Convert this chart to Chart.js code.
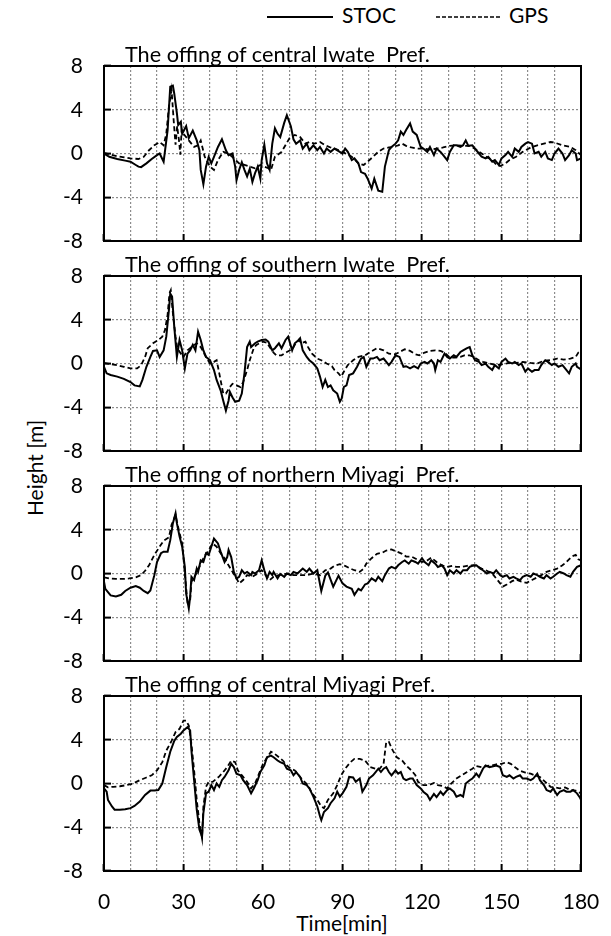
<!DOCTYPE html>
<html>
<head>
<meta charset="utf-8">
<script src="https://cdn.jsdelivr.net/npm/chart.js@4.4.0/dist/chart.umd.min.js"></script>
<style>
  body { margin: 0; background: #fff; font-family: Lato, sans-serif; color: #000; }
  #page { position: relative; width: 611px; height: 936px; overflow: hidden; }
  canvas { position: absolute; left: 0; }
  .txt { position: absolute; font-size: 21px; line-height: 24px; white-space: pre; }
  .ptitle { font-size: 21.7px; }
  .legend { position: absolute; top: 4px; height: 24px; }
</style>
</head>
<body>
<div id="page">
  <svg class="legend" style="left:267px" width="66" height="24"><line x1="0" y1="13" x2="66" y2="13" stroke="#000" stroke-width="2"/></svg>
  <div class="txt" style="left:342px; top:3px">STOC</div>
  <svg class="legend" style="left:436px" width="66" height="24"><line x1="0" y1="13" x2="66" y2="13" stroke="#000" stroke-width="1.6" stroke-dasharray="4 2"/></svg>
  <div class="txt" style="left:509px; top:3px">GPS</div>
  <div class="txt" style="left:-15px; top:456px; width:100px; text-align:center; transform:rotate(-90deg)">Height [m]</div>
  <div class="txt" style="left:292px; top:911px; width:100px; text-align:center">Time[min]</div>
</div>
<script>
// panel titles
var titles = [
  'The offing of central Iwate  Pref.',
  'The offing of southern Iwate  Pref.',
  'The offing of northern Miyagi  Pref.',
  'The offing of central Miyagi Pref.'
];
var xLabels = [0, 30, 60, 90, 120, 150, 180];

// [time (min), height (m)]
var stocCentralIwate = [[0,0],[2,-0.3],[5,-0.5],[8,-0.65],[10,-0.75],[12,-1.05],[13,-1.2],[14,-1.25],[16,-0.9],[18,-0.5],[20,-0.15],[21,0],[22.5,-0.75],[24,2.1],[25,6.1],[26,6.2],[26.5,5.5],[27.5,3.7],[28,2.6],[29,2.9],[29.5,1.8],[31,2.5],[32,1.4],[33.5,2.1],[35,1.2],[36,0.3],[36.5,-1.5],[37.5,-2.8],[38.5,-1.2],[39.5,-0.3],[40.5,-0.9],[41.5,-0.3],[43,0.6],[44.5,1.3],[46,0.3],[47,-0.15],[48.5,0],[49.5,-1.2],[50,-2.45],[51,-1.5],[52,-0.8],[53,-1.5],[54,-2.1],[55,-1.4],[56,-2.6],[57,-1.8],[58,-1.2],[59,-2.3],[59.5,-0.6],[60.5,0.8],[61.5,-0.9],[62.5,-1.5],[63.5,0.9],[64.5,2.3],[65.5,1.8],[66.5,1.5],[68,2.8],[69,3.5],[70.5,2.5],[71.5,1.3],[72.5,0.9],[74,1.2],[75,0.45],[76.5,0.9],[77.5,0.3],[79,0.75],[80.5,0.3],[81.5,0.6],[83,0],[84,0.45],[85.5,0.15],[87,0.45],[90,0],[91,0.45],[92,0.15],[93.5,-0.6],[94.5,-0.45],[96,-0.9],[97,-1.7],[98.5,-1.85],[99.5,-2.3],[101,-3.2],[102,-2.3],[103.5,-3.4],[105,-3.5],[106,-1.2],[107.5,0.3],[108.5,0.6],[110,0.9],[111,1.2],[112,2.0],[113,1.7],[114,2.15],[115.5,2.75],[116.5,2.0],[118,1.7],[119.5,0.6],[120.5,0.45],[122,0.15],[123,0.6],[124.5,-0.15],[125.5,0.45],[127,0.15],[128,-0.15],[129.5,-0.6],[130.5,0.15],[132,0.75],[133,0.75],[134.5,0.6],[135.5,0.75],[136.5,1.2],[137.5,0.7],[139,0.75],[140,0.45],[141.5,0],[142.5,-0.3],[144,-0.45],[145,-0.3],[146.5,-0.75],[147.5,-0.6],[149,-1.05],[150,-0.45],[151.5,-0.15],[152.5,0.15],[154,-0.3],[155,0.45],[156.5,0.15],[157.5,0.6],[159,0.9],[160,1.05],[161.5,0.9],[162.5,0],[164,0.15],[165,-0.3],[166.5,0.15],[167.5,-0.45],[169,-0.6],[170,0],[171.5,0.45],[173,0],[174,-0.6],[175.5,-0.15],[176.5,0.3],[178,0],[178.5,-0.6],[180,-0.45]];
var gpsCentralIwate = [[0,0.05],[5,-0.25],[10,-0.45],[13,-0.5],[15,-0.3],[17,0.3],[19,0.75],[21,1.05],[22.5,0.75],[23.5,1.8],[24.5,4.3],[25.5,5.8],[26.3,3.0],[27,0.8],[27.6,2.5],[28.3,1.2],[28.8,-0.1],[29.3,2.2],[30,1.8],[32,1.2],[34,0.6],[35.5,0.75],[36.5,1.2],[38,-0.3],[40,-1.2],[41.5,-1.5],[43,-0.6],[45,0.15],[47,0],[49,-0.45],[51,-0.9],[53,-1.05],[55,-1.2],[57,-1.35],[59,-1.05],[60.5,-1.2],[62,-1.35],[63,-1.5],[64.5,-0.3],[67,0.15],[70,1.4],[72,1.7],[74,1.5],[76,0.9],[77.5,1.05],[79.5,0.9],[81.5,1.05],[83.5,0.75],[85.5,0.55],[88,0.35],[90,0.15],[93.5,-0.3],[96,-0.9],[98,-1.05],[99.5,-0.75],[101.5,-0.3],[103.5,0.15],[105.5,0.45],[107.5,0.55],[109,0.6],[111,0.75],[112.5,0.9],[114,0.7],[116,0.55],[118,0.45],[120.5,0.45],[123,0.35],[125.5,0.45],[128,0.55],[130.5,0.7],[133,0.75],[135.5,0.7],[138,0.7],[140.5,0.35],[142.5,0],[144.5,-0.35],[146.5,-0.6],[148,-1.0],[149.5,-1.15],[151.5,-0.9],[153,-0.6],[155.5,-0.3],[158,0.15],[161,0.55],[163.5,0.75],[166,0.9],[168.5,1.05],[170,1.0],[173,0.75],[176,0.6],[178,0.3],[180,-0.15]];

var stocSouthernIwate = [[0,-0.3],[1,-0.9],[2.5,-1.05],[5,-1.2],[7.5,-1.4],[10,-1.7],[11.5,-2.0],[13.5,-2.1],[14.5,-1.5],[16,-0.3],[17.5,0.6],[18.5,1.15],[20,1.2],[21,0.6],[22.5,1.2],[23.5,2.45],[24.5,4.9],[25,6.4],[25.7,6.1],[26.5,3.4],[27.5,0.6],[28.5,2.15],[29.5,1.2],[30.5,-0.45],[31.5,0.9],[32.5,1.2],[33.5,1.7],[34.5,1.2],[35.5,2.9],[36.5,2.15],[37.5,1.2],[38.5,0.6],[40,0.3],[41.5,-0.6],[42.5,-1.5],[44,-2.45],[45,-3.4],[46,-4.3],[47,-3.4],[47.5,-2.6],[48.5,-3.1],[49.5,-3.5],[51,-3.4],[52,-2.75],[53,-0.9],[54,1.5],[55,2.0],[55.5,1.5],[57,1.85],[58,2.0],[59.5,2.15],[61,2.2],[62,2.0],[63.5,1.2],[64.5,1.4],[66,1.85],[67,1.4],[68.5,2.15],[69.5,2.45],[71,1.2],[72,1.85],[73.5,2.15],[74,2.3],[75,1.2],[76.5,0.6],[77.5,0.3],[79,0],[80.5,-0.45],[81.5,-1.2],[82.5,-2.15],[83.5,-1.5],[84.5,-2.15],[85.5,-2.0],[86.5,-2.45],[88,-2.75],[89,-3.5],[89.7,-3.2],[90.5,-2.15],[91.5,-2.0],[92.5,-1.05],[94,-0.9],[95.5,-0.3],[97,0.45],[98,0.6],[99,-0.3],[100.5,0.45],[101.5,0.45],[103,0.6],[104,0.3],[105.5,0.45],[107.5,-0.15],[108.5,0.15],[110,0.75],[111.5,0.6],[113,-0.3],[114,-0.25],[115.5,-0.45],[117,-0.25],[118.5,-0.45],[119.5,0],[121,0.15],[122,0],[123.5,0.3],[124.5,0],[125,-0.6],[126,0.3],[127,0.15],[128.5,0.9],[129.5,0.6],[130.5,0.45],[132,0.75],[133,0.6],[134.5,1.05],[135.5,1.2],[137,1.4],[138,1.5],[139,0.75],[140,0.3],[141.5,0.15],[142.5,-0.15],[144,0],[145,-0.3],[146.5,-0.6],[147.5,-0.15],[149,-0.45],[150,0.15],[151.5,0.45],[152.5,0.15],[154,0],[155,0.15],[156.5,-0.15],[157.5,0],[159,-0.75],[160,-0.45],[161.5,-0.75],[162.5,-0.6],[164,-0.6],[165,-0.15],[166.5,0.3],[167.5,0.15],[169,-0.15],[170,0],[171.5,-0.3],[173,-0.15],[174,-0.45],[175.5,-0.9],[176.5,-0.3],[178,0],[178.5,-0.3],[180,-0.55]];
var gpsSouthernIwate = [[0,0.05],[2.5,-0.05],[5,-0.15],[7.5,-0.3],[10,-0.45],[12.5,-0.45],[14,-0.15],[15.5,0.6],[16.5,1.4],[18.5,1.85],[20.5,2.15],[22,2.45],[23,3.05],[24,4.45],[24.7,6.4],[25.2,6.7],[26,4.6],[27,2.45],[27.7,1.4],[29,0.9],[30,0.6],[31.5,1.2],[32.5,1.4],[34,1.7],[35,1.85],[36.5,1.5],[37.5,1.05],[38.5,0.6],[40,0],[41.5,0.15],[42.5,0.3],[43.5,-0.9],[45,-2.75],[46,-2.75],[47.5,-2.15],[48.5,-1.85],[50,-2.0],[51.5,-2.15],[52.5,-1.7],[54,-0.6],[55,0.3],[56.5,1.4],[57.5,1.7],[59,1.9],[60,2.0],[61.5,1.9],[62.5,1.5],[64,1.0],[65,0.75],[67,0.75],[69,1.05],[71,1.3],[72,1.7],[73.5,2.15],[74.5,1.85],[76,2.0],[77,1.5],[78.5,0.9],[80.5,0.45],[82,0.3],[84,0],[86,-0.25],[87,-0.6],[88.5,-0.9],[89.5,-1.2],[90.5,-0.75],[92,-0.15],[94,0.3],[96,0.6],[98.5,0.75],[100.5,1.05],[103,1.4],[105.5,1.2],[107.5,0.9],[110,0.85],[111.5,1.05],[113.5,1.3],[115.5,1.15],[117.5,0.85],[119,0.75],[121,1.0],[123,1.15],[125,1.2],[127,1.15],[128.5,1.0],[130.5,0.55],[132.5,0.55],[134.5,0.6],[136,0.75],[138,0.75],[139.5,0.6],[141.5,0.3],[143,0.15],[145.5,0],[148,-0.15],[150.5,-0.05],[153,0.05],[155.5,0.05],[158,0.15],[161,0.05],[163.5,0],[166,0.25],[168.5,0.3],[171,0.45],[173.5,0.35],[176,0.45],[178,0.6],[179,1.0],[180,1.15]];

var stocNorthernMiyagi = [[0,-0.75],[0.5,-1.4],[1.5,-1.7],[2.5,-2.0],[4.5,-2.1],[6.5,-1.95],[8,-1.6],[10,-1.3],[12,-1.15],[13.5,-1.3],[15,-1.6],[16.5,-1.8],[17.5,-1.55],[19,-0.15],[20,1.05],[21.5,1.85],[22.5,2.0],[24,2.0],[25,3.05],[26,4.6],[27,5.5],[27.5,4.6],[28.5,3.4],[29.5,2.45],[30.5,0.6],[31,-1.85],[32,-3.2],[32.5,-2.15],[33,-0.3],[34,-0.6],[35,0.45],[35.5,0.15],[36.5,1.2],[37.5,1.05],[38.5,1.85],[39.5,1.7],[40.5,2.45],[41.5,3.2],[43,2.75],[44,2.0],[45.5,1.05],[46.5,1.5],[47,2.15],[48,1.5],[49,0.15],[50,-0.45],[51,-0.3],[52,0.3],[53,0],[54,0.15],[55.5,-0.15],[56,0.15],[57,0],[58.5,0.3],[59.5,1.2],[60.5,0.3],[61.5,-0.45],[62.5,0.15],[63.5,-0.15],[64,0.15],[65.5,-0.45],[66.5,-0.05],[68,-0.3],[69,0],[70.5,-0.15],[71.5,0.15],[73,0],[75,0.45],[76.5,0.15],[77.5,0.45],[79,0],[80.5,0.3],[82,-1.6],[83.5,-0.2],[84.5,0.1],[86.5,-1.2],[88.5,-0.2],[90,-0.9],[91.5,-1.2],[93.5,-1.4],[94.5,-1.95],[96,-1.4],[97,-1.55],[98.5,-1.0],[99.5,-0.9],[101,-0.45],[102.5,-0.7],[103.5,-0.3],[105,-0.7],[106,-0.15],[107.5,0.45],[108.5,0.6],[110,0.45],[111,0.75],[112.5,1.05],[113.5,1.2],[115,0.9],[116,1.2],[117.5,1.05],[118.5,0.9],[120,1.4],[121,1.05],[122.5,0.75],[123.5,1.2],[125,0.9],[126,0.6],[127.5,0.75],[128.5,0.45],[129.5,-0.15],[130.5,0.3],[132,0],[133,0.3],[134.5,0],[135.5,0.3],[137,0.3],[138,0.6],[139.5,0.75],[140.5,0.75],[142,0.45],[143,0.3],[144.5,0],[145.5,0.15],[147,0],[148,0.3],[149.5,-0.15],[150.5,-0.3],[152,-0.15],[153,-0.45],[154.5,-0.3],[155.5,-0.45],[157,-0.6],[158,-0.3],[159.5,-0.15],[161,-0.3],[162,0],[163.5,-0.15],[164.5,-0.3],[166,-0.45],[167,-0.15],[168.5,-0.45],[169.5,-0.3],[171,0],[172,0.15],[173.5,0],[174.5,-0.15],[176,-0.3],[177,0.15],[178.5,0.6],[180,0.75]];
var gpsNorthernMiyagi = [[0,-0.35],[2,-0.45],[4.5,-0.5],[7,-0.5],[9.5,-0.45],[12,-0.35],[14,-0.15],[15.5,0.25],[17,0.75],[19,1.7],[21,2.45],[22.5,3.0],[24.5,3.3],[25.5,4.45],[27,5.35],[27.5,4.75],[28.5,3.7],[29.5,2.75],[30.5,0],[31.5,-2.6],[32.5,-2.45],[33,-0.75],[34.5,-0.15],[36,0.6],[37.5,1.4],[39.5,2.15],[41,2.75],[42.5,2.45],[44,1.85],[45.5,1.4],[47,0.75],[48.5,0.15],[50,-0.45],[51,-0.9],[52.5,-0.6],[54,-0.15],[56,-0.3],[58,0],[59.5,0.3],[61,-0.15],[62.5,-0.6],[64,-0.3],[66,-0.15],[68,-0.05],[70,0],[71.5,-0.15],[74,-0.15],[76.5,-0.15],[79,0],[81.5,-0.15],[83.5,0.3],[85.5,0.45],[87,0.7],[89,0.85],[91,0.7],[93,0.45],[94.5,0.3],[96.5,0.15],[98,0.45],[99,0.9],[101,1.4],[103,1.8],[105,1.9],[106.5,2.1],[108.5,2.2],[110.5,2.0],[112.5,1.8],[114,1.55],[116,1.55],[118,1.3],[120,1.05],[122,1.2],[123.5,1.45],[125.5,1.05],[127.5,0.75],[129.5,0.6],[131.5,0.7],[133,0.6],[135,0.6],[137,0.7],[139,0.75],[140.5,0.7],[142.5,0.45],[144.5,0.25],[146.5,0],[148,-0.45],[149.5,-0.9],[150.5,-1.2],[152,-1.0],[154,-0.7],[155.5,-0.55],[157.5,-0.75],[159.5,-0.85],[161.5,-0.6],[163.5,-0.35],[165,-0.15],[167,0.15],[169,0.3],[171,0.45],[173,0.75],[174.5,1.05],[176.5,1.55],[178,1.7],[179,1.3],[180,1.2]];

var stocCentralMiyagi = [[0,-0.45],[1,-0.75],[1.5,-1.5],[3,-2.1],[4,-2.4],[6,-2.4],[8,-2.35],[10,-2.25],[11.5,-2.05],[13.5,-1.65],[15.5,-1.05],[17.5,-0.65],[19,-0.65],[20.5,-0.6],[22,0],[23.5,1.5],[25,2.9],[26.5,3.9],[27.5,4.25],[29,4.55],[30,4.85],[31.5,5.15],[32.5,4.85],[33,3.0],[34,0.3],[35,-2.4],[36,-4.2],[37,-4.85],[37.5,-2.7],[38.5,-0.9],[39.5,-0.75],[40.5,-0.15],[41.5,-0.6],[42.5,0],[43.5,-0.3],[44.5,0.3],[45.5,0.6],[47,1.2],[48,1.8],[49,1.5],[50,0.9],[51.5,0.75],[52.5,0.3],[54,-0.15],[55.5,-0.9],[56.5,-0.45],[58,0.3],[59,1.05],[60.5,1.65],[61.5,2.4],[63,2.55],[64,2.4],[65.5,2.1],[66.5,1.95],[68,1.8],[69,1.35],[70.5,1.2],[71.5,0.75],[72.5,1.05],[74,0.6],[75,0],[76.5,-0.15],[77.5,-0.45],[79,-1.2],[80.5,-2.1],[81.5,-3.0],[82,-3.35],[83,-2.6],[84.5,-2.25],[85.5,-1.8],[87,-1.35],[88,-0.75],[89,-1.2],[90,-0.9],[91.5,-0.3],[92.5,0.6],[94,0.55],[95,0.15],[96.5,0.45],[97.5,-0.75],[99,-0.15],[100,0.45],[101.5,0.75],[102.5,1.05],[103.5,1.35],[104.5,1.05],[105.5,1.35],[106.5,1.5],[107.5,1.05],[108.5,0.75],[110,1.2],[111,0.9],[112,1.05],[113,0.45],[114,0.3],[115.5,0.45],[116.5,0.45],[118,-0.15],[119.5,-0.45],[120.5,-0.75],[122,-1.05],[123,-1.5],[124.5,-0.95],[125.5,-1.25],[127,-0.75],[128,-1.05],[129.5,-0.6],[130.5,-0.45],[132,-0.75],[133,-1.2],[134.5,-1.05],[135.5,-1.2],[136.5,0],[138,0.3],[139,0.45],[140.5,0.9],[141.5,0.6],[143,1.35],[144,1.65],[145.5,1.5],[146.5,1.55],[148,1.65],[149.5,1.5],[150.5,0.75],[152,0.6],[153,0.75],[154.5,0.45],[155.5,0.6],[157,0.75],[158,0.45],[159.5,0.45],[161,0.3],[162,0.45],[163.5,0.9],[164.5,0.3],[166,-0.15],[167,-0.6],[168.5,-0.75],[169.5,-0.45],[171,-1.05],[172,-0.75],[173.5,-0.6],[174.5,-0.75],[176,-0.75],[177,-0.6],[178.5,-0.9],[179.5,-1.25],[180,-1.5]];
var gpsCentralMiyagi = [[0,-0.15],[1.5,-0.35],[3.5,-0.3],[6,-0.25],[8.5,-0.15],[11,0],[13.5,0.3],[16,0.55],[18,0.75],[20,1.2],[22,1.95],[23.5,3.0],[25.5,3.9],[27,4.7],[28.5,5.0],[30,5.75],[31,5.75],[32,5.3],[33,3.6],[34,1.2],[35,-1.5],[36,-3.6],[37,-5.0],[37.5,-2.1],[38.5,-0.3],[39.5,0.15],[41,0.15],[42.5,0.45],[43.5,0.65],[45,1.05],[46.5,1.5],[48,2.1],[49.5,1.95],[50.5,1.2],[52.5,0.6],[54,0.15],[55.5,-0.45],[57,0],[58.5,0.9],[60,1.8],[61.5,2.35],[63,2.9],[64.5,2.7],[66,2.4],[67.5,2.1],[69,1.65],[70.5,1.35],[72,1.2],[73.5,0.75],[75,0.3],[77,-0.15],[78.5,-0.9],[80.5,-1.5],[82,-2.1],[83,-2.25],[84.5,-1.5],[86.5,-0.9],[88,-0.15],[89.5,0.75],[91,1.35],[93,1.95],[94.5,2.25],[96.5,2.25],[98.5,2.1],[100.5,1.5],[102.5,1.35],[104,1.35],[105.5,1.8],[106.5,3.8],[107.5,3.8],[109,3.0],[110.5,2.4],[112.5,2.1],[114,1.65],[116,1.2],[117.5,0.75],[118.5,0.15],[120.5,-0.15],[122.5,-0.15],[124.5,0.05],[126,-0.15],[128,-0.25],[129.5,-0.45],[131,0],[133,0.45],[135,0.75],[137,1.05],[139,1.35],[140.5,1.6],[142.5,1.5],[144.5,1.6],[146.5,1.65],[148,1.75],[150,1.8],[152,1.95],[153.5,1.8],[155,1.5],[157,1.15],[159,1.0],[161,0.9],[162.5,0.75],[164.5,0.6],[166.5,0.15],[168.5,-0.3],[170,-0.35],[172,-0.45],[174,-0.35],[176,-0.6],[178,-0.65],[180,-0.9]];

var stocSeries = [stocCentralIwate, stocSouthernIwate, stocNorthernMiyagi, stocCentralMiyagi];
var gpsSeries = [gpsCentralIwate, gpsSouthernIwate, gpsNorthernMiyagi, gpsCentralMiyagi];

Chart.defaults.font.family = 'Lato, sans-serif';
Chart.defaults.font.size = 21;
Chart.defaults.color = '#000';

// black box round the plot area
var frame = {
  id: 'frame',
  afterDraw: function (chart) {
    var a = chart.chartArea, ctx = chart.ctx;
    ctx.save();
    ctx.strokeStyle = '#000';
    ctx.lineWidth = 2;
    ctx.strokeRect(a.left, a.top, a.right - a.left, a.bottom - a.top);
    ctx.restore();
  }
};

var page = document.getElementById('page');
var panelTop = [66, 276, 486, 696];
var plotH = 175;

function toPoints(arr) {
  return arr.map(function (p) { return { x: p[0], y: p[1] }; });
}

function makePanel(i) {
  var last = i === 3;
  var cv = document.createElement('canvas');
  cv.width = 611;
  cv.height = plotH + 30 + (last ? 45 : 0);
  cv.style.top = (panelTop[i] - 15) + 'px';
  page.appendChild(cv);

  var t = document.createElement('div');
  t.className = 'txt ptitle';
  t.style.left = '125px';
  t.style.top = (panelTop[i] - 24) + 'px';
  t.textContent = titles[i];
  page.appendChild(t);

  new Chart(cv.getContext('2d'), {
    type: 'line',
    data: {
      datasets: [{
        label: 'STOC',
        data: toPoints(stocSeries[i]),
        borderColor: '#000',
        borderWidth: 2,
        pointRadius: 0,
        tension: 0
      }, {
        label: 'GPS',
        data: toPoints(gpsSeries[i]),
        borderColor: '#000',
        borderWidth: 1.8,
        borderDash: [5, 3],
        pointRadius: 0,
        tension: 0
      }]
    },
    options: {
      responsive: false,
      animation: false,
      events: [],
      layout: { padding: { left: 0, right: 30, top: 15, bottom: last ? 0 : 15 } },
      plugins: { legend: { display: false }, tooltip: { enabled: false } },
      scales: {
        x: {
          type: 'linear',
          min: 0,
          max: 180,
          afterFit: function (s) {
            s.height = last ? 60 : 0;
            s.paddingLeft = 0;
            s.paddingRight = 0;
          },
          border: { display: false, dash: [2, 2] },
          grid: {
            color: '#8c8c8c',
            lineWidth: 1.2,
            tickLength: -7,
            tickWidth: 2,
            tickColor: function (ctx) { return xLabels.indexOf(ctx.tick.value) >= 0 ? '#000' : 'rgba(0,0,0,0)'; }
          },
          ticks: {
            display: last,
            stepSize: 10,
            autoSkip: false,
            maxRotation: 0,
            padding: 26,
            callback: function (v) { return xLabels.indexOf(v) >= 0 ? v : ''; }
          }
        },
        y: {
          min: -8,
          max: 8,
          afterFit: function (s) {
            s.width = 104;
            s.paddingTop = 0;
            s.paddingBottom = 0;
          },
          border: { display: false, dash: [2, 2] },
          grid: {
            color: '#8c8c8c',
            lineWidth: 1.2,
            tickLength: -7,
            tickWidth: 2,
            tickColor: '#000'
          },
          ticks: { stepSize: 4, padding: 28 }
        }
      }
    },
    plugins: [frame]
  });
}

for (var i = 0; i < 4; i++) makePanel(i);
</script>
</body>
</html>
